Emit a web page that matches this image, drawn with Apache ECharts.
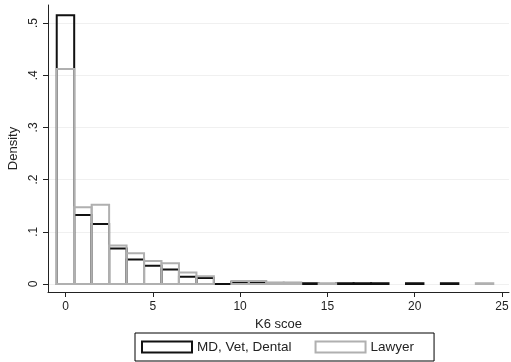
<!DOCTYPE html>
<html>
<head>
<meta charset="utf-8">
<script src="https://cdn.jsdelivr.net/npm/echarts@6/dist/echarts.min.js"></script>
<style>
    html, body { margin: 0; padding: 0; background: #fff; }
    #chart { width: 511px; height: 362px; }
</style>
</head>
<body>
<div id="chart"></div>
<script>
    // K6 score bins (width 1, centred on integers)
    var bins = [0, 1, 2, 3, 4, 5, 6, 7, 8, 9, 10, 11, 12, 13, 14, 15, 16, 17, 18, 19, 20, 21, 22, 23, 24];
    var mdDensity = [0.515, 0.132, 0.115, 0.068, 0.047, 0.035, 0.028, 0.014, 0.0115, 0, 0.004, 0.002, 0.002, 0.001,
        0.0015, '-', 0.0015, 0.0015, 0.0015, '-', 0.0015, '-', 0.0015, '-', '-'];
    var lawyerDensity = [0.412, 0.147, 0.152, 0.074, 0.059, 0.044, 0.040, 0.022, 0.015, '-', 0.006, 0.006, 0.003, 0.003,
        '-', 0.0015, '-', '-', '-', '-', '-', '-', '-', '-', 0.0015];
    var yTicks = [0, 0.1, 0.2, 0.3, 0.4, 0.5];
    var xTicks = [0, 5, 10, 15, 20, 25];

    function toPairs (values) {
        var out = [];
        for (var i = 0; i < bins.length; i++) {
            if (values[i] !== '-') out.push([bins[i], values[i]]);
        }
        return out;
    }

    // outline-only histogram bar
    function makeRender (color) {
        return function (params, api) {
            var x = api.value(0);
            var y = api.value(1);
            var p1 = api.coord([x - 0.5, y]);
            var p2 = api.coord([x + 0.5, 0]);
            return {
                type: 'rect',
                shape: { x: p1[0], y: p1[1], width: p2[0] - p1[0], height: p2[1] - p1[1] },
                style: { fill: null, stroke: color, lineWidth: 2 }
            };
        };
    }

    var textColor = '#222';
    var font = 'Liberation Sans, Arial, sans-serif';

    var chart = echarts.init(document.getElementById('chart'));
    var option = {
        backgroundColor: '#fff',
        animation: false,
        grid: { left: 48, right: 2, top: 5, bottom: 70, outerBoundsMode: 'none', containLabel: false },
        legend: {
            left: 135,
            top: 333,
            padding: [7, 20, 7, 6],
            borderColor: '#000',
            borderWidth: 1,
            itemWidth: 50,
            itemHeight: 11,
            itemGap: 23,
            textStyle: { fontFamily: font, fontSize: 13.5, color: textColor },
            data: [
                { name: 'MD, Vet, Dental', icon: 'rect', itemStyle: { color: '#fff', borderColor: '#111', borderWidth: 2 } },
                { name: 'Lawyer', icon: 'rect', itemStyle: { color: '#fff', borderColor: '#b0b0b0', borderWidth: 2 } }
            ]
        },
        xAxis: {
            type: 'value',
            min: -1,
            max: 25.4,
            name: 'K6 scoe',
            nameLocation: 'middle',
            nameGap: 24,
            nameTextStyle: { fontFamily: font, fontSize: 13, color: textColor },
            axisLine: { onZero: false, lineStyle: { color: '#222', width: 1 } },
            axisTick: { customValues: xTicks, length: 5, lineStyle: { color: '#222' } },
            axisLabel: { customValues: xTicks, margin: 9, fontFamily: font, fontSize: 12, color: textColor },
            splitLine: { show: false }
        },
        yAxis: {
            type: 'value',
            min: -0.0153,
            max: 0.5345,
            name: 'Density',
            nameLocation: 'middle',
            nameGap: 26,
            nameTextStyle: { fontFamily: font, fontSize: 13, color: textColor },
            axisLine: { show: true, onZero: false, lineStyle: { color: '#222', width: 1 } },
            axisTick: { show: true, customValues: yTicks, length: 5, lineStyle: { color: '#222' } },
            axisLabel: {
                customValues: yTicks,
                rotate: 90,
                margin: 8,
                fontFamily: font,
                fontSize: 12,
                color: textColor,
                formatter: function (v) { return v === 0 ? '0' : String(v).replace(/^0/, ''); }
            },
            splitLine: { show: true, lineStyle: { color: '#f0f0f0', width: 1 } }
        },
        series: [
            {
                name: 'MD, Vet, Dental',
                type: 'custom',
                renderItem: makeRender('#111'),
                encode: { x: 0, y: 1 },
                itemStyle: { color: '#111' },
                data: toPairs(mdDensity),
                z: 2
            },
            {
                name: 'Lawyer',
                type: 'custom',
                renderItem: makeRender('#b0b0b0'),
                encode: { x: 0, y: 1 },
                itemStyle: { color: '#b0b0b0' },
                data: toPairs(lawyerDensity),
                z: 3
            }
        ]
    };
    chart.setOption(option);
</script>
</body>
</html>
